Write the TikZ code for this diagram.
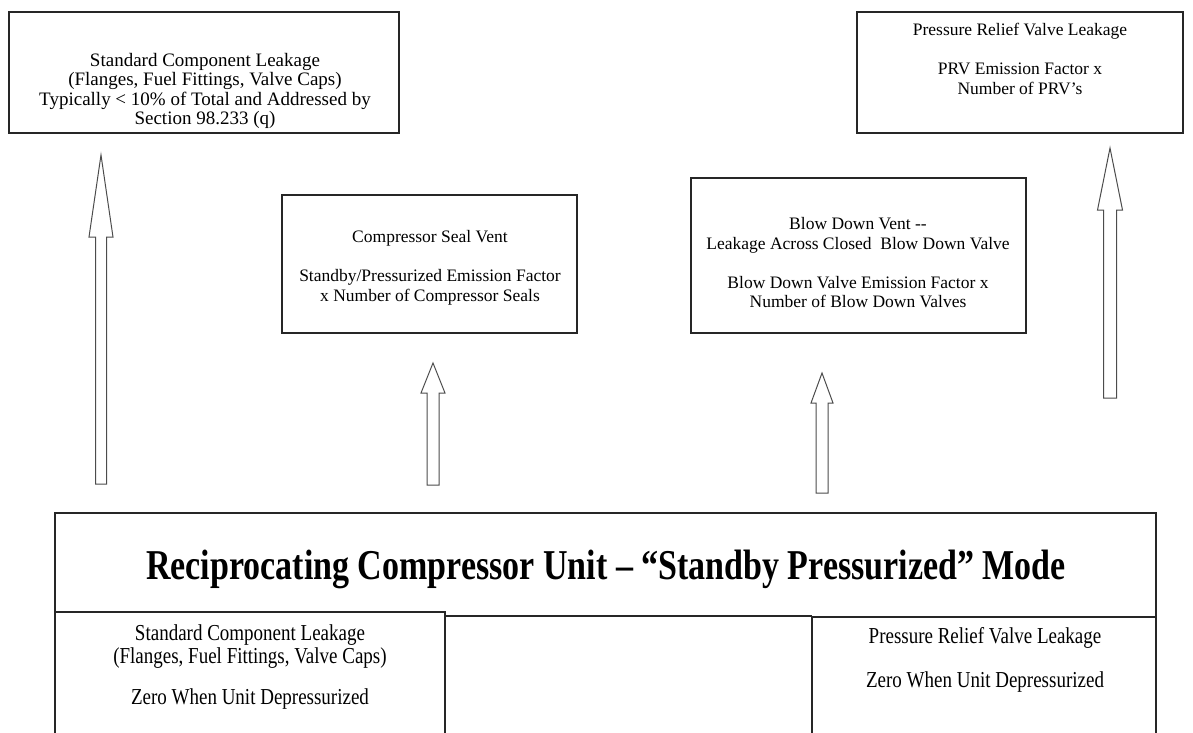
\documentclass[tikz,border=0pt]{standalone}
\usepackage{fontspec}
\setmainfont{Liberation Serif}
\begin{document}
\begin{tikzpicture}[x=1pt,y=-1pt,
  box/.style={draw=black!85,line width=1.3pt},
  boxtext/.style={align=center,font=\fontsize{17.5}{19.5}\selectfont,inner sep=0pt},
  bigtext/.style={align=center,font=\fontsize{19}{19.5}\selectfont,inner sep=0pt},
  lowtext/.style={align=center,font=\fontsize{19}{19.2}\selectfont,inner sep=0pt,yscale=1.2,transform shape},
  fatarrow/.style={draw=black!70,line width=1pt,fill=white,line join=miter}]
\useasboundingbox (0,0) rectangle (1193,732);
\clip (0,0) rectangle (1193,732);

% block arrow: #1 centre x, #2 foot y, #3 head base y, #4 tip y, #5 half shaft, #6 half head
\newcommand\blockarrow[6]{%
  \draw[fatarrow] (#1-#5,#2) -- (#1-#5,#3) -- (#1-#6,#3) -- (#1,#4)
    -- (#1+#6,#3) -- (#1+#5,#3) -- (#1+#5,#2) -- cycle;}

% upper boxes
\draw[box] (9,12) rectangle (399,133);
\node[bigtext] (std) at (205,91) {Standard Component Leakage\\(Flanges, Fuel Fittings, Valve Caps)\\Typically < 10\% of Total and Addressed by\\Section 98.233 (q)};

\draw[box] (857,12) rectangle (1183,133);
\node[boxtext] (prv) at (1020,59) {Pressure Relief Valve Leakage\\[19.5pt]PRV Emission Factor x\\Number of PRV’s};

\draw[box] (282,195) rectangle (577,333);
\node[boxtext] (seal) at (430,268) {Compressor Seal Vent\\[19.5pt]Standby/Pressurized Emission Factor\\x Number of Compressor Seals};

\draw[box] (691,178) rectangle (1026,333);
\node[boxtext] (blow) at (858,263) {Blow Down Vent {-}{-}\\Leakage Across Closed\ \ Blow Down Valve\\[19.5pt]Blow Down Valve Emission Factor x\\Number of Blow Down Valves};

% compressor unit
\draw[box] (55,612) -- (55,513) -- (1156,513) -- (1156,617);
\draw[box] (445,616) -- (812,616);
\node[inner sep=0pt,font=\fontsize{34}{40}\selectfont\bfseries,yscale=1.25,transform shape] (unit) at (606,569) {Reciprocating Compressor Unit – “Standby Pressurized” Mode};
\draw[box] (55,612) rectangle (445,745);
\draw[box] (812,617) rectangle (1156,745);
\node[lowtext] (stdlow) at (250,667) {Standard Component Leakage\\(Flanges, Fuel Fittings, Valve Caps)\\[15pt]Zero When Unit Depressurized};
\node[lowtext] (prvlow) at (985,660) {Pressure Relief Valve Leakage\\[18pt]Zero When Unit Depressurized};

% emission paths
\blockarrow{101}{484}{237}{155}{5.5}{12}
\blockarrow{433}{485}{393}{363}{6}{12}
\blockarrow{822}{493}{403}{373}{6}{11}
\blockarrow{1110}{398}{210}{148}{6.5}{12.5}
\end{tikzpicture}
\end{document}
